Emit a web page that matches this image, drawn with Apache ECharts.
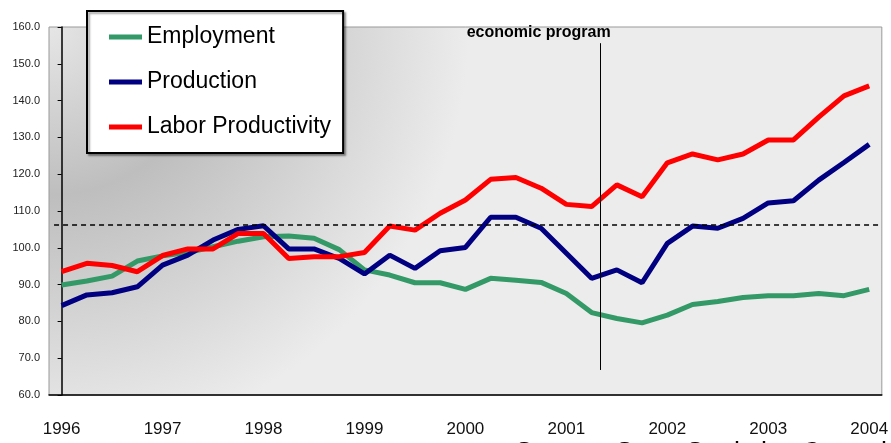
<!DOCTYPE html>
<html>
<head>
<meta charset="utf-8">
<script src="https://cdn.jsdelivr.net/npm/echarts@6/dist/echarts.min.js"></script>
<style>
  html, body { margin: 0; padding: 0; background: #fff; }
  #chart { width: 891px; height: 443px; }
</style>
</head>
<body>
<div id="chart"></div>
<script>
// quarterly index values, 1996 Q1 .. 2004 Q1
var years = ["1996", "1997", "1998", "1999", "2000", "2001", "2002", "2003", "2004"];
var quarters = ["Q1", "Q2", "Q3", "Q4"];

var employment = [89.9, 91.0, 92.3, 96.4, 97.8, 98.7, 100.3, 101.8, 103.0, 103.2, 102.6,
  99.5, 94.0, 92.6, 90.5, 90.5, 88.7, 91.7, 91.2, 90.6, 87.6, 82.4, 80.8, 79.6, 81.7,
  84.6, 85.4, 86.5, 87.0, 87.0, 87.6, 87.0, 88.7];
var production = [84.3, 87.2, 87.8, 89.4, 95.3, 98.0, 102.1, 105.0, 106.0, 99.7, 99.7,
  97.1, 92.9, 98.0, 94.4, 99.2, 100.1, 108.3, 108.3, 105.3, 98.5, 91.7, 94.0, 90.5, 101.2,
  105.9, 105.3, 108.0, 112.2, 112.8, 118.4, 123.2, 128.1];
var productivity = [93.5, 95.8, 95.2, 93.5, 97.9, 99.7, 99.7, 103.9, 103.9, 97.1, 97.6,
  97.6, 98.7, 105.9, 104.8, 109.4, 113.0, 118.6, 119.1, 116.2, 111.8, 111.2, 117.1, 113.9, 123.1,
  125.5, 123.9, 125.5, 129.3, 129.3, 135.5, 141.3, 144.0];

// reference level and the start of the economic program (in quarter-index units)
var refLevel = 106.2;
var programAt = 21.36;
var programSpan = [66.8, 155.6];

var categories = [];
years.forEach(function (y, i) {
  quarters.forEach(function (q) {
    if (i < years.length - 1 || q === "Q1") categories.push(y + " " + q);
  });
});

var font = "'Liberation Sans', Arial, sans-serif";

var chart = echarts.init(document.getElementById("chart"));

chart.setOption({
  animation: false,
  textStyle: { fontFamily: font },
  grid: {
    left: 49, right: 2, top: 27, bottom: 48,
    show: true,
    borderColor: "#999",
    borderWidth: 1,
    // light at the top-left corner, a dark ring, then flat light grey
    backgroundColor: {
      type: "radial", x: 49, y: 27, r: 420, global: true,
      colorStops: [
        { offset: 0, color: "#e6e6e6" },
        { offset: 0.4, color: "#bebebe" },
        { offset: 1, color: "#ececec" }
      ]
    }
  },
  legend: {
    data: ["Employment", "Production", "Labor Productivity"],
    orient: "vertical",
    left: 87, top: 11,
    padding: [11, 12, 11, 22],
    itemGap: 15,
    itemWidth: 33,
    itemHeight: 5,
    icon: "rect",
    backgroundColor: "#fff",
    borderColor: "#000",
    borderWidth: 2,
    borderRadius: 0,
    shadowColor: "rgba(0,0,0,0.35)",
    shadowBlur: 2,
    shadowOffsetX: 2,
    shadowOffsetY: 2,
    textStyle: { fontFamily: font, fontSize: 23, lineHeight: 30, color: "#000" }
  },
  xAxis: [
    {
      type: "category",
      data: categories,
      boundaryGap: true,
      axisLine: { lineStyle: { color: "#000", width: 1.5 } },
      axisTick: { interval: 0, length: 6, lineStyle: { color: "#000" } },
      axisLabel: {
        interval: 3,
        margin: 26,
        fontFamily: font,
        fontSize: 17,
        color: "#111",
        formatter: function (v) { return v.slice(0, 4); }
      },
      splitLine: { show: false }
    },
    { type: "value", min: -0.5, max: categories.length - 0.5, show: false }
  ],
  yAxis: {
    type: "value",
    min: 60, max: 160, interval: 10,
    axisLine: { show: true, lineStyle: { color: "#000", width: 1.5 } },
    axisTick: { show: true, length: 4, lineStyle: { color: "#000" } },
    axisLabel: {
      margin: 9,
      fontFamily: font,
      fontSize: 11,
      color: "#222",
      formatter: function (v) { return v.toFixed(1); }
    },
    splitLine: { show: false }
  },
  series: [
    {
      name: "Employment", type: "line", data: employment,
      symbol: "none", color: "#339966",
      lineStyle: { width: 5, color: "#339966" }
    },
    {
      name: "Production", type: "line", data: production,
      symbol: "none", color: "#000080",
      lineStyle: { width: 5, color: "#000080" }
    },
    {
      name: "Labor Productivity", type: "line", data: productivity,
      symbol: "none", color: "#ff0000",
      lineStyle: { width: 5, color: "#ff0000" }
    },
    {
      name: "annotations", type: "line", xAxisIndex: 1, data: [],
      markLine: {
        silent: true,
        symbol: ["none", "none"],
        animation: false,
        data: [
          [
            { coord: [-0.3, refLevel], lineStyle: { type: [5, 4], width: 1.5, color: "#000" }, label: { show: false } },
            { coord: [categories.length - 0.55, refLevel] }
          ],
          [
            { coord: [programAt, programSpan[0]], lineStyle: { type: "solid", width: 1, color: "#000" },
              label: {
                show: true, position: "end", distance: 3,
                formatter: "economic program",
                fontFamily: font, fontWeight: "bold", fontSize: 16, color: "#000",
                padding: [0, 124, 0, 0]
              } },
            { coord: [programAt, programSpan[1]] }
          ]
        ]
      }
    }
  ],
  graphic: [
    {
      type: "text", left: 515, top: 440, silent: true,
      style: { text: "Source: State Statistics Committee", fontSize: 27,
        fontFamily: font, fill: "#000" }
    }
  ]
});
</script>
</body>
</html>
